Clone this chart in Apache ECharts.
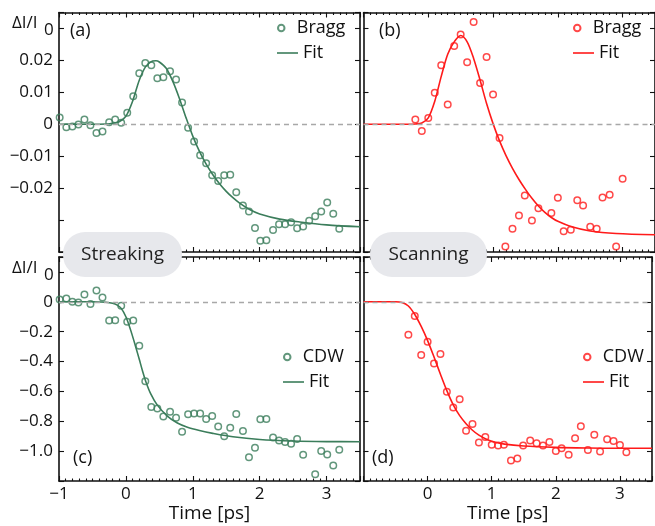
<!DOCTYPE html>
<html>
<head>
<meta charset="utf-8">
<script src="https://cdn.jsdelivr.net/npm/echarts@6/dist/echarts.min.js"></script>
<style>html,body{margin:0;padding:0;background:#fff}#c{width:655px;height:526px}</style>
</head>
<body>
<div id="c"></div>
<script>
// ---------- data ----------
// (a) Bragg, streaking
const tBraggStreak = [-0.99,-0.89,-0.80,-0.71,-0.62,-0.53,-0.44,-0.35,-0.25,-0.16,-0.07,0.02,0.11,0.20,0.29,0.38,0.47,0.56,0.66,0.75,0.84,0.93,1.02,1.11,1.20,1.29,1.38,1.47,1.56,1.65,1.75,1.84,1.93,2.01,2.10,2.20,2.29,2.38,2.47,2.56,2.65,2.74,2.83,2.92,3.01,3.10,3.19];
const vBraggStreak = [0.0021,-0.0009,-0.0007,-0.0001,0.0015,-0.0003,-0.0027,-0.0023,0.0006,0.0015,0.0005,0.0036,0.0088,0.0160,0.0192,0.0185,0.0144,0.0147,0.0166,0.0140,0.0068,-0.0011,-0.0054,-0.0097,-0.0122,-0.0160,-0.0178,-0.0160,-0.0158,-0.0213,-0.0254,-0.0273,-0.0325,-0.0365,-0.0363,-0.0331,-0.0313,-0.0313,-0.0307,-0.0326,-0.0320,-0.0302,-0.0288,-0.0273,-0.0245,-0.0280,-0.0327];
const tFitA = [-1,-0.5,-0.3,-0.2,-0.1,0,0.1,0.2,0.3,0.4,0.45,0.5,0.6,0.7,0.8,0.9,1.0,1.1,1.2,1.3,1.4,1.5,1.6,1.7,1.85,2.0,2.3,2.6,3.0,3.5];
const vFitA = [0,0,0.0001,0.0003,0.0008,0.0025,0.0072,0.0138,0.0182,0.0198,0.0199,0.0195,0.0176,0.0135,0.0081,0.0020,-0.0037,-0.0085,-0.0125,-0.0158,-0.0186,-0.0210,-0.0230,-0.0247,-0.0267,-0.0281,-0.0297,-0.0306,-0.0315,-0.0321];

// (b) Bragg, scanning
const tBraggScan = [-0.20,-0.10,0.00,0.10,0.20,0.30,0.40,0.50,0.60,0.70,0.80,0.90,1.00,1.10,1.19,1.30,1.40,1.49,1.60,1.70,1.90,2.00,2.09,2.20,2.30,2.39,2.50,2.60,2.69,2.80,2.90,3.00];
const vBraggScan = [0.0015,-0.0021,0.0020,0.0099,0.0185,0.0062,0.0245,0.0281,0.0194,0.0320,0.0129,0.0211,0.0093,-0.0043,-0.0383,-0.0327,-0.0286,-0.0223,-0.0301,-0.0263,-0.0278,-0.0230,-0.0335,-0.0330,-0.0238,-0.0254,-0.0321,-0.0327,-0.0229,-0.0221,-0.0383,-0.0171];
const tFitB = [-1,-0.3,-0.2,-0.1,0,0.1,0.2,0.3,0.4,0.5,0.6,0.7,0.8,0.9,1.0,1.1,1.2,1.3,1.4,1.5,1.6,1.7,1.8,1.9,2.0,2.2,2.5,2.9,3.5];
const vFitB = [0,0,0.0001,0.0004,0.0020,0.0072,0.0150,0.0219,0.0258,0.0278,0.0258,0.0206,0.0138,0.0065,0.0002,-0.0052,-0.0098,-0.0138,-0.0173,-0.0204,-0.0232,-0.0256,-0.0276,-0.0292,-0.0304,-0.0320,-0.0334,-0.0342,-0.0346];

// (c) CDW, streaking
const tCdwStreak = [-0.99,-0.89,-0.80,-0.71,-0.62,-0.53,-0.44,-0.35,-0.25,-0.16,-0.07,0.02,0.11,0.20,0.29,0.38,0.47,0.56,0.66,0.75,0.84,0.93,1.02,1.11,1.20,1.29,1.38,1.47,1.56,1.65,1.75,1.84,1.93,2.01,2.10,2.20,2.29,2.38,2.47,2.56,2.65,2.83,2.92,3.01,3.10,3.19];
const vCdwStreak = [0.016,0.022,0.000,-0.004,0.049,-0.015,0.076,0.029,-0.126,-0.124,-0.027,-0.133,-0.126,-0.294,-0.532,-0.704,-0.715,-0.768,-0.737,-0.777,-0.870,-0.753,-0.748,-0.748,-0.784,-0.764,-0.835,-0.901,-0.844,-0.751,-0.866,-1.041,-0.977,-0.786,-0.784,-0.908,-0.928,-0.939,-0.950,-0.919,-1.025,-1.154,-0.999,-1.023,-1.096,-0.990];
const tFitC = [-1,-0.5,-0.4,-0.3,-0.2,-0.13,-0.07,0,0.07,0.145,0.2,0.25,0.3,0.37,0.47,0.62,0.77,0.92,1.1,1.3,1.6,2.0,2.5,3.0,3.5];
const vFitC = [0,0,-0.001,-0.003,-0.010,-0.022,-0.044,-0.100,-0.188,-0.299,-0.385,-0.465,-0.537,-0.615,-0.692,-0.765,-0.812,-0.840,-0.862,-0.881,-0.904,-0.922,-0.932,-0.936,-0.937];

// (d) CDW, scanning
const tCdwScan = [-0.30,-0.20,-0.10,0.00,0.10,0.20,0.30,0.40,0.50,0.60,0.70,0.80,0.90,1.00,1.10,1.19,1.30,1.40,1.49,1.60,1.70,1.80,1.90,2.00,2.09,2.20,2.30,2.39,2.50,2.60,2.69,2.80,2.90,3.00,3.10];
const vCdwScan = [-0.221,-0.095,-0.356,-0.268,-0.414,-0.350,-0.602,-0.708,-0.653,-0.864,-0.819,-0.943,-0.906,-0.957,-0.963,-0.957,-1.063,-1.050,-0.963,-0.928,-0.948,-0.963,-0.939,-0.999,-0.981,-1.025,-0.914,-0.833,-0.992,-0.890,-1.003,-0.921,-0.932,-0.959,-1.008];
const tFitD = [-1,-0.5,-0.4,-0.3,-0.2,-0.1,0,0.1,0.2,0.3,0.4,0.5,0.6,0.7,0.8,0.9,1.0,1.2,1.5,2.0,2.5,3.0,3.5];
const vFitD = [0,0,-0.004,-0.028,-0.085,-0.165,-0.260,-0.370,-0.485,-0.595,-0.690,-0.762,-0.816,-0.860,-0.893,-0.917,-0.934,-0.953,-0.966,-0.975,-0.979,-0.981,-0.981];

const xTickLabels = ['\u22121','0','1','2','3'];
const panelLabels = ['(a)','(b)','(c)','(d)'];
const yTitleMain = '\u0394I/I';
const yTitleSub = '0';

// ---------- styling ----------
const FONT = 'Open Sans';
const GREEN = '#3b7d5b';
const RED = '#ff1a1a';
const zip = (t, v) => t.map((x, i) => [x, v[i]]);

const grids = [
  {left: 59, top: 12.5, width: 301, height: 239.5},
  {left: 363.5, top: 12.5, right: -3.5, height: 239.5},
  {left: 59, top: 257, width: 301, height: 224},
  {left: 363.5, top: 257, right: -3.5, height: 224}
];

const axisLine = {show: true, onZero: false, lineStyle: {color: '#111', width: 1.6}};
const tickStyle = {color: '#111', width: 1.1};

function xAx(gi, pos, labels, name) {
  return {
    type: 'value', gridIndex: gi, position: pos, min: -1, max: 3.5, interval: 1,
    axisLine: axisLine,
    axisTick: {show: true, inside: true, length: 5, lineStyle: tickStyle},
    minorTick: {show: true, splitNumber: 10, length: 2.5, lineStyle: tickStyle},
    splitLine: {show: false}, minorSplitLine: {show: false},
    axisLabel: labels ? {
      show: true, margin: 5, fontSize: 17, fontFamily: FONT, color: '#111',
      formatter: v => { const i = Math.round(v) + 1; return (Math.abs(v - Math.round(v)) < 1e-6 && labels.includes(xTickLabels[i])) ? xTickLabels[i] : ''; }
    } : {show: false},
    name: name || '', nameLocation: 'middle', nameGap: 15,
    nameTextStyle: {fontSize: 19, fontFamily: FONT, color: '#111'}
  };
}
function yAx(gi, pos, kind, showLabels) {
  const isBragg = kind === 'bragg';
  return {
    type: 'value', gridIndex: gi, position: pos,
    min: isBragg ? -0.04 : -1.2, max: isBragg ? 0.035 : 0.3, interval: isBragg ? 0.01 : 0.2,
    axisLine: axisLine,
    axisTick: {show: true, inside: true, length: 5, lineStyle: tickStyle},
    splitLine: {show: false},
    axisLabel: showLabels ? {
      show: true, margin: 6, fontSize: 17, fontFamily: FONT, color: '#111',
      formatter: v => {
        if (isBragg) {
          const r = Math.round(v * 100) / 100;
          if (r > 0.025 || r < -0.025 || Math.abs(v - r) > 1e-6) return '';
          return r === 0 ? '0' : (r < 0 ? '\u2212' : '') + Math.abs(r).toFixed(2);
        } else {
          const r = Math.round(v * 10) / 10;
          if (r > 0.05 || r < -1.05 || Math.abs(v - r) > 1e-6) return '';
          return r === 0 ? '0' : '\u2212' + Math.abs(r).toFixed(1);
        }
      }
    } : {show: false}
  };
}

const xAxes = [
  xAx(0, 'bottom', null), xAx(0, 'top', null),
  xAx(1, 'bottom', null), xAx(1, 'top', null),
  xAx(2, 'bottom', ['\u22121','0','1','2','3'], 'Time [ps]'), xAx(2, 'top', null),
  xAx(3, 'bottom', ['0','1','2','3'], 'Time [ps]'), xAx(3, 'top', null)
];
const yAxes = [
  yAx(0, 'left', 'bragg', true), yAx(0, 'right', 'bragg', false),
  yAx(1, 'left', 'bragg', false), yAx(1, 'right', 'bragg', false),
  yAx(2, 'left', 'cdw', true), yAx(2, 'right', 'cdw', false),
  yAx(3, 'left', 'cdw', false), yAx(3, 'right', 'cdw', false)
];

const panels = [
  {name: 'Bragg', key: 'a', t: tBraggStreak, v: vBraggStreak, ft: tFitA, fv: vFitA, color: GREEN},
  {name: 'Bragg', key: 'b', t: tBraggScan, v: vBraggScan, ft: tFitB, fv: vFitB, color: RED},
  {name: 'CDW', key: 'c', t: tCdwStreak, v: vCdwStreak, ft: tFitC, fv: vFitC, color: GREEN},
  {name: 'CDW', key: 'd', t: tCdwScan, v: vCdwScan, ft: tFitD, fv: vFitD, color: RED}
];

const series = [];
panels.forEach((p, i) => {
  const ax = {xAxisIndex: 2 * i, yAxisIndex: 2 * i};
  series.push(Object.assign({
    type: 'line', name: 'zero_' + p.key, data: [], silent: true, z: 1,
    markLine: {silent: true, symbol: ['none', 'none'], label: {show: false},
      lineStyle: {type: [5, 4], color: '#a8a8a8', width: 1.3}, data: [{yAxis: 0}], animation: false}
  }, ax));
  series.push(Object.assign({
    type: 'line', name: 'Fit_' + p.key, data: zip(p.ft, p.fv), smooth: 0.3,
    symbol: 'none', showSymbol: false, z: 3,
    lineStyle: {color: p.color, width: 1.6}, itemStyle: {color: p.color}
  }, ax));
  series.push(Object.assign({
    type: 'scatter', name: p.name + '_' + p.key, data: zip(p.t, p.v), symbol: 'circle', symbolSize: 6.5, z: 4,
    itemStyle: {color: 'rgba(255,255,255,0)', borderColor: p.color, borderWidth: 1.5}
  }, ax));
});

const legendPos = [
  {left: 277, top: 19}, {left: 573, top: 19},
  {left: 283, top: 348}, {left: 583, top: 348}
];
const legends = [];
panels.forEach((p, i) => {
  const common = {
    left: legendPos[i].left, orient: 'vertical', itemWidth: 21, selectedMode: false, padding: 0,
    formatter: n => n.split('_')[0],
    textStyle: {fontSize: 18, fontFamily: FONT, color: '#111'}
  };
  legends.push(Object.assign({}, common, {top: legendPos[i].top, itemHeight: 6.5, data: [p.name + '_' + p.key]}));
  legends.push(Object.assign({}, common, {top: legendPos[i].top + 25, itemHeight: 1.6,
    data: [{name: 'Fit_' + p.key, icon: 'rect'}], itemStyle: {color: p.color, borderWidth: 0}}));
});

// y-axis titles ΔI/I0 via title components (main text + lowered subscript 0)
const titleStyle = {fontSize: 17, fontFamily: FONT, fontWeight: 'normal', color: '#111'};
const titles = [];
[[12, 15], [12, 260]].forEach(([x, y]) => {
  titles.push({text: yTitleMain, left: x, top: y, padding: 0, textStyle: titleStyle});
  titles.push({text: yTitleSub, left: x + 32, top: y + 7, padding: 0, backgroundColor: '#ffffff', z: 100, zlevel: 1, textStyle: titleStyle});
});

const labelPos = [[70, 33], [379, 33], [73, 460], [372, 460]];
const graphics = [];
panelLabels.forEach((s, i) => graphics.push({
  type: 'text', left: labelPos[i][0], top: labelPos[i][1] - 11, z: 50,
  style: {text: s, font: '18px "' + FONT + '"', fill: '#111'}
}));
// mode boxes
[['Streaking', 63, 119], ['Scanning', 370, 117]].forEach(([s, x, w]) => {
  graphics.push({type: 'rect', z: 60, shape: {x: x, y: 232, width: w, height: 45, r: 22},
    style: {fill: '#e7e8ec'}});
  graphics.push({type: 'text', z: 61, x: x + w / 2, y: 255,
    style: {text: s, font: '19px "' + FONT + '"', fill: '#222', textAlign: 'center', textVerticalAlign: 'middle'}});
});

const chart = echarts.init(document.getElementById('c'), null, {renderer: 'canvas'});
chart.setOption({
  animation: false,
  backgroundColor: '#fff',
  title: titles,
  grid: grids,
  xAxis: xAxes,
  yAxis: yAxes,
  legend: legends,
  series: series,
  graphic: graphics
});
</script>
</body>
</html>
